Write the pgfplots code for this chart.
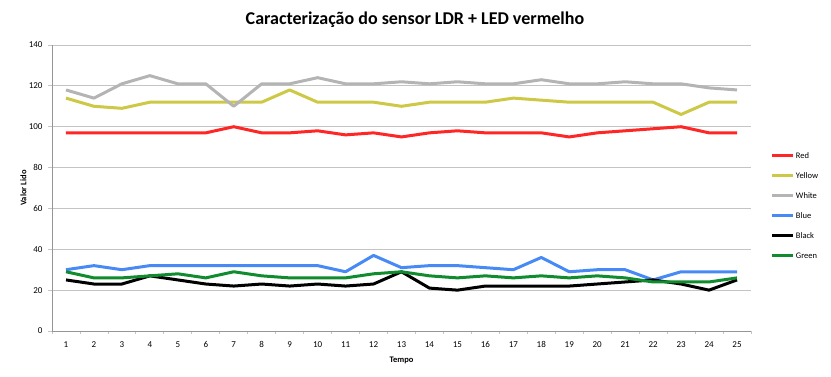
\documentclass[border=0pt]{standalone}
\usepackage{pgfplots}
\pgfplotsset{compat=1.18}
\usepackage{fontspec}
\setmainfont{Carlito}
\definecolor{cRed}{RGB}{255,38,38}
\definecolor{cYellow}{RGB}{205,200,70}
\definecolor{cWhite}{RGB}{180,180,180}
\definecolor{cBlue}{RGB}{72,138,245}
\definecolor{cBlack}{RGB}{0,0,0}
\definecolor{cGreen}{RGB}{16,140,46}
\definecolor{cGrid}{RGB}{196,196,196}
\definecolor{cAxis}{RGB}{150,150,150}
\begin{document}
\begin{tikzpicture}
\path[use as bounding box] (0pt,0pt) rectangle (831pt,-377pt);
\node[font=\fontsize{18}{20}\selectfont\bfseries] at (415pt,-20pt) {Caracterização do sensor LDR + LED vermelho};
\begin{axis}[
  at={(52pt,-331pt)}, anchor=south west,
  scale only axis, width=699pt, height=286pt,
  xmin=0.5, xmax=25.5, ymin=0, ymax=140,
  xtick={1,...,25},
  minor xtick={0.5,1.5,...,25.5},
  ytick={0,20,...,140},
  axis x line*=bottom, axis y line*=left,
  axis line style={cAxis, line width=0.8pt},
  ymajorgrids, grid style={cGrid, line width=0.9pt},
  major x tick style={draw=none},
  minor x tick style={cGrid, line width=0.8pt},
  minor tick length=3pt,
  ytick style={cGrid, line width=0.8pt},
  major tick length=4pt,
  tick align=outside,
  tick label style={font=\fontsize{9}{10}\selectfont},
  /pgf/number format/assume math mode=true,
  yticklabel style={xshift=-2pt},
  xticklabel style={yshift=-3pt},
  xlabel={Tempo}, ylabel={Valor Lido},
  label style={font=\fontsize{8.5}{10}\selectfont\bfseries},
  xlabel style={at={(0.5,0)}, anchor=north, yshift=-22pt},
  ylabel style={at={(0,0.5)}, anchor=south, xshift=-0pt, yshift=22pt},
  legend style={at={(1.024,0.64)}, anchor=north west, draw=none, fill=none,
    font=\fontsize{8.5}{10}\selectfont, row sep=9pt,
    nodes={inner sep=1pt, text height=7pt, text depth=2pt}},
  legend cell align=left,
  legend image code/.code={\draw[#1, line width=3pt] (0pt,0pt) -- (21pt,0pt);},
  every axis plot/.append style={line width=3pt, line join=round},
  clip=false,
]
\addplot[cRed] coordinates {(1,97)(2,97)(3,97)(4,97)(5,97)(6,97)(7,100)(8,97)(9,97)(10,98)(11,96)(12,97)(13,95)(14,97)(15,98)(16,97)(17,97)(18,97)(19,95)(20,97)(21,98)(22,99)(23,100)(24,97)(25,97)};
\addlegendentry{Red}
\addplot[cYellow] coordinates {(1,114)(2,110)(3,109)(4,112)(5,112)(6,112)(7,112)(8,112)(9,118)(10,112)(11,112)(12,112)(13,110)(14,112)(15,112)(16,112)(17,114)(18,113)(19,112)(20,112)(21,112)(22,112)(23,106)(24,112)(25,112)};
\addlegendentry{Yellow}
\addplot[cWhite] coordinates {(1,118)(2,114)(3,121)(4,125)(5,121)(6,121)(7,110)(8,121)(9,121)(10,124)(11,121)(12,121)(13,122)(14,121)(15,122)(16,121)(17,121)(18,123)(19,121)(20,121)(21,122)(22,121)(23,121)(24,119)(25,118)};
\addlegendentry{White}
\addplot[cBlue] coordinates {(1,30)(2,32)(3,30)(4,32)(5,32)(6,32)(7,32)(8,32)(9,32)(10,32)(11,29)(12,37)(13,31)(14,32)(15,32)(16,31)(17,30)(18,36)(19,29)(20,30)(21,30)(22,25)(23,29)(24,29)(25,29)};
\addlegendentry{Blue}
\addplot[cBlack] coordinates {(1,25)(2,23)(3,23)(4,27)(5,25)(6,23)(7,22)(8,23)(9,22)(10,23)(11,22)(12,23)(13,29)(14,21)(15,20)(16,22)(17,22)(18,22)(19,22)(20,23)(21,24)(22,25)(23,23)(24,20)(25,25)};
\addlegendentry{Black}
\addplot[cGreen] coordinates {(1,29)(2,26)(3,26)(4,27)(5,28)(6,26)(7,29)(8,27)(9,26)(10,26)(11,26)(12,28)(13,29)(14,27)(15,26)(16,27)(17,26)(18,27)(19,26)(20,27)(21,26)(22,24)(23,24)(24,24)(25,26)};
\addlegendentry{Green}
\end{axis}
\end{tikzpicture}
\end{document}
